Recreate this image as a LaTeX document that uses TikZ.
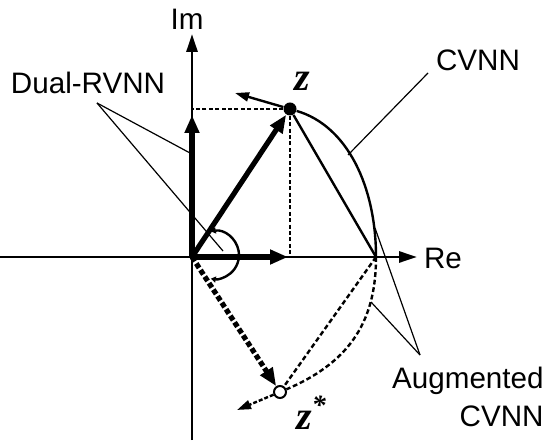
\documentclass[tikz,border=0pt]{standalone}
\usepackage{fontspec}
\setmainfont{Liberation Sans}
\newfontfamily\zfont{Liberation Serif}
\usetikzlibrary{arrows.meta}

\begin{document}
\begin{tikzpicture}[
    x=0.5pt, y=0.5pt,
    axis/.style={line width=1.4pt, -{Triangle[length=9pt,width=5.5pt]}},
    vec/.style={line width=2.6pt, -{Triangle[length=9pt,width=7pt]}},
    conj/.style={vec, dash pattern=on 2.6pt off 1.3pt},
    tang/.style={line width=1.2pt, -{Triangle[length=7pt,width=4.5pt]}},
    proj/.style={line width=0.6pt, dash pattern=on 2pt off 1.2pt},
    curve/.style={line width=1.2pt},
    pointer/.style={line width=0.6pt},
    lbl/.style={font=\fontsize{14.8}{19}\selectfont, inner sep=0pt},
    zlbl/.style={font=\fontsize{20}{22}\selectfont\zfont\bfseries\itshape, inner sep=0pt}
  ]
  \useasboundingbox (0,0) rectangle (544,443);

  % axes
  \coordinate (O) at (192,186);
  \coordinate (imbot) at (192,3);
  \coordinate (imtop) at (192,409);
  \coordinate (releft) at (0,186);
  \coordinate (retip) at (417,186);
  \draw[axis] (imbot) -- (imtop);
  \draw[axis] (releft) -- (retip);
  \node[lbl] (imlbl) at (187,424) {Im};
  \node[lbl] (relbl) at (443,185) {Re};

  % points z, z* and the point on Re
  \node[circle, fill, inner sep=0pt, minimum size=6.5pt] (z) at (290,334) {};
  \node[circle, draw, fill=white, line width=1pt, inner sep=0pt, minimum size=6pt] (zs) at (280,51) {};
  \coordinate (A) at (376,186);
  \coordinate (zim) at (192,334);
  \coordinate (zre) at (290,186);
  \coordinate (imvec) at (192,328);
  \coordinate (revec) at (288,186);

  % projections
  \draw[proj] (z) -- (zim);
  \draw[proj] (z) -- (zre);

  % CVNN arc and chord
  \draw[curve] (z) .. controls (347.6,317.2) and (376,256) .. (A);
  \draw[curve] (z) -- (A);
  % augmented arc and chord
  \draw[curve, dash pattern=on 2.4pt off 1.4pt] (A) .. controls (376,126) and (353.6,82.2) .. (zs);
  \draw[curve, dash pattern=on 2.4pt off 1.4pt] (A) -- (zs);

  % vectors
  \draw[vec] (O) -- (imvec);
  \draw[vec] (O) -- (revec);
  \draw[vec] (O) -- (z);
  \draw[conj] (O) -- (zs);

  % tangent arrows
  \coordinate (ztan) at (235,350);
  \coordinate (zstan) at (237,33);
  \draw[tang] (z) -- (ztan);
  \draw[tang, dash pattern=on 2pt off 1pt] (zs) -- (zstan);

  % angle
  \draw[curve, {Triangle[length=2.5pt,width=3pt]}-{Triangle[length=2.5pt,width=3pt]}]
    (210.8,211.6) arc[start angle=100, end angle=-100, radius=24];

  % labels
  \node[zlbl] (zlbl) at (302,362) {z};
  \node[zlbl, anchor=west] (zslbl) at (296,30) {z\textsuperscript{*}};
  \node[lbl] (dual) at (88,360) {Dual-RVNN};
  \node[lbl] (cvnn) at (478,383) {CVNN};
  \node[lbl, align=right, anchor=east] (aug) at (544,46) {Augmented\\CVNN};

  % pointers
  \coordinate (dualtip) at (97,340);
  \coordinate (cvnntip) at (428,370);
  \coordinate (augtip) at (420,88);
  \draw[pointer] (dualtip) -- (190,290);
  \draw[pointer] (dualtip) -- (223,192);
  \draw[pointer] (cvnntip) -- (348,288);
  \draw[pointer] (augtip) -- (375,215);
  \draw[pointer] (augtip) -- (371,141);
\end{tikzpicture}
\end{document}
